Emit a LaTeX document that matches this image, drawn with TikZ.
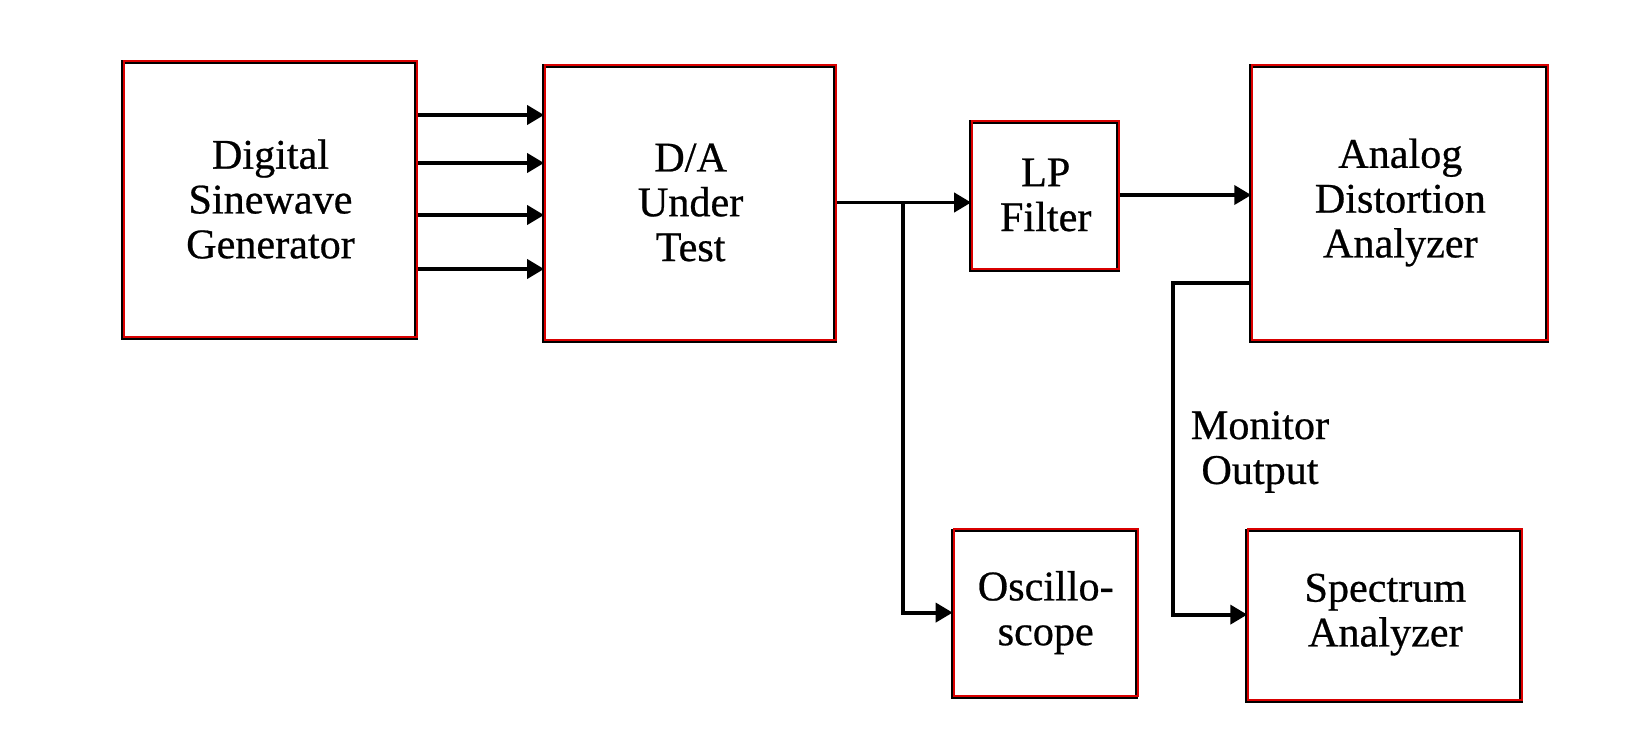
\documentclass[tikz,border=0pt]{standalone}
\usepackage{fontspec}
\setmainfont{Liberation Serif}
\newfontfamily\heavyserif{Liberation Serif}[FakeBold=0.6]
\usepackage{tikz}
\usetikzlibrary{arrows.meta, positioning, calc}

\newcommand{\boxfont}{\heavyserif\fontsize{24}{25.5}\selectfont}

\begin{document}
\begin{tikzpicture}[
    blk/.style={rectangle, draw=red!85!black, line width=1.2pt, inner sep=0pt, align=center, font=\boxfont,
        preaction={draw=black, line width=2.2pt, transform canvas={shift={(-0.7pt,-0.8pt)}}}},
    lbl/.style={align=center, font=\boxfont},
    arrow/.style={-{Triangle[length=3.4mm, width=3.8mm]}, line width=2.2pt, color=black}
    ]
    \useasboundingbox (0,0) rectangle (33.04,-15);

    % Nodes
    \node[blk, minimum width=5.86cm, minimum height=5.52cm] (gen) at (5.41,-3.98) {Digital\\Sinewave\\Generator};
    \node[blk, minimum width=5.82cm, minimum height=5.5cm, right=2.52cm of gen, yshift=-0.07cm] (da) {D/A\\Under\\Test};
    \node[blk, minimum width=2.94cm, minimum height=2.96cm, right=2.68cm of da, yshift=0.15cm] (lp) {LP\\Filter};
    \node[blk, minimum width=5.92cm, minimum height=5.5cm, right=2.62cm of lp, yshift=-0.15cm] (ana) {Analog\\Distortion\\Analyzer};
    \node[blk, minimum width=3.68cm, minimum height=3.34cm, below=5.16cm of lp] (osc) {Oscillo-\\scope};
    \node[blk, minimum width=5.48cm, minimum height=3.42cm, below=3.74cm of ana, xshift=-0.3cm] (spec) {Spectrum\\Analyzer};
    \node[lbl] (mon) at (25.2,-9.04) {Monitor\\Output};

    \coordinate (tap) at ([xshift=1.32cm]da.east);
    \coordinate (monout) at ([yshift=-1.61cm]ana.west);
    \coordinate (mbend) at ([xshift=-1.56cm]monout);

    % Edges
    \foreach \dy in {1.68,0.72,-0.32,-1.4}
        \draw[arrow] ([yshift=\dy cm]gen.east) -- ([yshift=\dy cm]gen.east -| da.west);
    \draw[arrow] (da.east) -- (da.east -| lp.west);
    \draw[arrow] (tap) |- (osc.west);
    \draw[arrow] (lp.east) -- (lp.east -| ana.west);
    \draw[arrow] (monout) -- (mbend) |- (spec.west);
\end{tikzpicture}
\end{document}
